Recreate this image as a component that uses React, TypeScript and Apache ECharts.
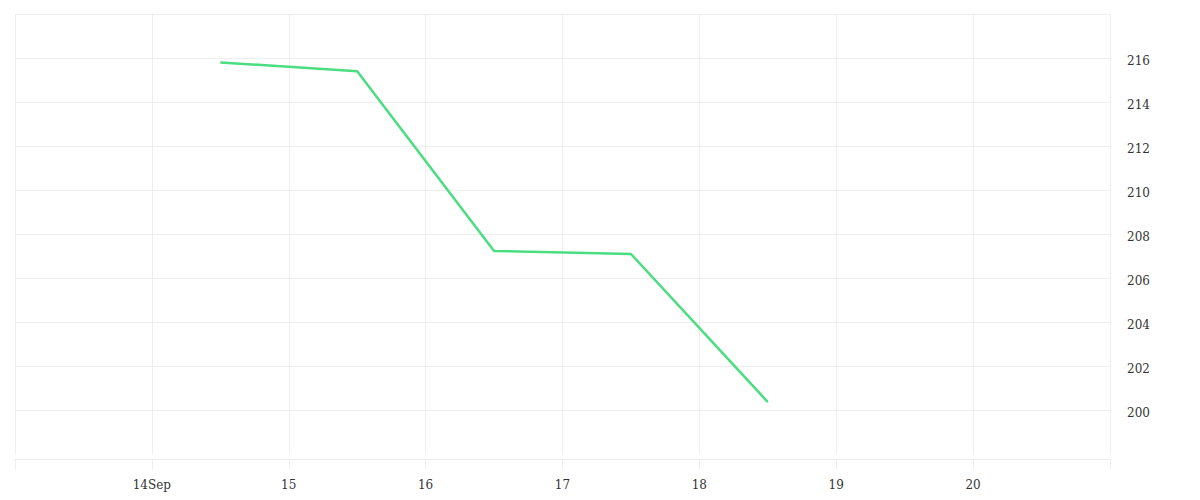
import React, { useEffect, useRef } from 'react';
import * as echarts from 'echarts';

const DAY = 24 * 60 * 60 * 1000;

// x range: 13 Sep to 21 Sep, one tick per day
const axisStart = '2024-09-13T00:00:00Z';
const axisEnd = '2024-09-21T00:00:00Z';
const xTickLabels = ['', '14Sep', '15', '16', '17', '18', '19', '20', ''];

// series: daily points at noon
const pointTimes = [
  '2024-09-14T12:00:00Z',
  '2024-09-15T12:00:00Z',
  '2024-09-16T12:00:00Z',
  '2024-09-17T12:00:00Z',
  '2024-09-18T12:00:00Z'
];
const pointValues = [215.8, 215.4, 207.23, 207.09, 200.36];

const GRID_COLOR = '#eeeeee';
const TEXT_STYLE = { color: '#333333', fontFamily: 'DejaVu Serif', fontSize: 12 };

export default function App() {
  const chartRef = useRef<HTMLDivElement>(null);

  useEffect(() => {
    if (!chartRef.current) return;
    const chart = echarts.init(chartRef.current, undefined, { renderer: 'svg' });
    const xMin = Date.parse(axisStart);
    const xMax = Date.parse(axisEnd);

    chart.setOption({
      animation: false,
      backgroundColor: '#ffffff',
      grid: { left: 15, right: 90, top: 14, bottom: 46 },
      xAxis: {
        type: 'value',
        min: xMin,
        max: xMax,
        interval: DAY,
        offset: 5,
        axisLine: { show: true, lineStyle: { color: GRID_COLOR, width: 1 } },
        axisTick: { show: true, length: 10, lineStyle: { color: GRID_COLOR } },
        splitLine: { show: true, lineStyle: { color: GRID_COLOR, width: 1 } },
        axisLabel: {
          ...TEXT_STYLE,
          margin: 20,
          formatter: (v: number) => xTickLabels[Math.round((v - xMin) / DAY)] ?? ''
        }
      },
      yAxis: {
        type: 'value',
        position: 'right',
        min: 198,
        max: 218,
        interval: 2,
        axisLine: { show: false },
        axisTick: { show: false },
        splitLine: {
          show: true,
          showMinLine: false,
          lineStyle: { color: GRID_COLOR, width: 1 }
        },
        axisLabel: {
          ...TEXT_STYLE,
          margin: 17,
          showMinLabel: false,
          showMaxLabel: false,
          formatter: (v: number) => `{v|${v}}`,
          rich: { v: { ...TEXT_STYLE, padding: [6, 0, 0, 0] } }
        }
      },
      series: [
        {
          type: 'line',
          data: pointTimes.map((t, i) => [Date.parse(t), pointValues[i]]),
          showSymbol: false,
          symbol: 'none',
          lineStyle: { color: '#4ade80', width: 2.5 },
          itemStyle: { color: '#4ade80' }
        }
      ]
    });

    return () => {
      chart.dispose();
    };
  }, []);

  return (
    <div
      ref={chartRef}
      style={{ position: 'absolute', left: 0, top: 0, width: 1200, height: 500 }}
    />
  );
}
